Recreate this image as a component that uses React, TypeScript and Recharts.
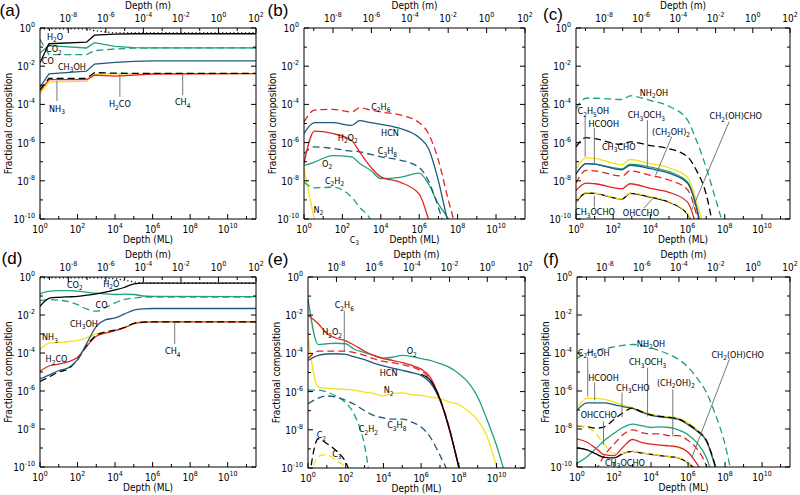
import React from "react"
import { LineChart, Line, XAxis, YAxis, ReferenceDot, ReferenceLine } from "recharts"

const FONT = "'Liberation Sans Narrow', 'DejaVu Sans Condensed', 'Liberation Sans', sans-serif"
const BLACK = "#000000"
const GREEN = "#1fa27a"
const BLUE = "#1c5b7e"
const RED = "#e4231d"
const YELLOW = "#f5e21b"
const DASH = "7 4"
const DOT = "1.2 2.6"

// 1 monolayer is roughly 3.1e-10 m, used for the top axis
const M_PER_ML = 3.1e-10
const X_MAX = 1e2 / M_PER_ML

const mlTickExps = [0, 1, 2, 3, 4, 5, 6, 7, 8, 9, 10, 11]
const mTickExps = [-9, -8, -7, -6, -5, -4, -3, -2, -1, 0, 1, 2]
const yTickExps = [-10, -9, -8, -7, -6, -5, -4, -3, -2, -1, 0]
const mlTicks = mlTickExps.map((e) => Math.pow(10, e))
const mTicks = mTickExps.map((e) => Math.pow(10, e) / M_PER_ML)
const yTicks = yTickExps.map((e) => Math.pow(10, e))

// ---- panel (a)
const aDepth = [1, 3, 300, 800, 1e4, 1e5, 1e6, 3.3e11]
const aTotal = [0.9, 0.9, 0.9, 0.72, 0.55, 0.55, 0.55, 0.55]
const aH2O = [0.015, 0.15, 0.18, 0.42, 0.48, 0.5, 0.5, 0.5]
const aCO2 = [0.05, 0.12, 0.09, 0.17, 0.11, 0.095, 0.09, 0.09]
const aCO = [0.25, 0.04, 0.04, 0.065, 0.08, 0.088, 0.09, 0.09]
const aCH3OH = [8e-4, 4e-3, 5.5e-3, 0.013, 0.016, 0.018, 0.019, 0.019]
const aNH3 = [3.5e-4, 1.5e-3, 1.6e-3, 3.8e-3, 4e-3, 4e-3, 4.1e-3, 4.1e-3]
const aH2CO = [5e-4, 2e-3, 2e-3, 3.4e-3, 3e-3, 3.4e-3, 3.9e-3, 4.1e-3]
const aCH4 = [6e-4, 2.3e-3, 2.3e-3, 4.6e-3, 4.3e-3, 4.2e-3, 4.2e-3, 4.2e-3]

// ---- panel (b)
const bDepth = [1, 3.5, 30, 300, 800, 3e3, 1e4, 1e5, 1e6, 3e6, 1e7, 3e7, 1e8]
const bC2H6 = [1.2e-5, 5e-5, 5.5e-5, 4e-5, 6.6e-5, 5e-5, 4e-5, 2.8e-5, 1.1e-5, 3e-6, 1.2e-7, 1.4e-9, 1.6e-11]
const bHCN = [3e-6, 1.1e-5, 1.1e-5, 8e-6, 1.4e-5, 1.1e-5, 9e-6, 5.5e-6, 1.8e-6, 5e-7, 1e-8, 8e-11, 1e-12]
const bH2O2 = [8e-8, 4e-6, 3e-6, 1.3e-6, 3.2e-7, 5.2e-8, 1.6e-8, 8.5e-9, 2e-9, 1e-10, 1e-12, null, null]
const bC3H8 = [2.6e-7, 6e-7, 5e-7, 3.6e-7, 3.3e-7, 2.4e-7, 1.8e-7, 1.2e-7, 5e-8, 1e-8, 4e-10, 1e-11, null]
const bO2 = [6.4e-8, 9.5e-8, 2.1e-7, 1.8e-7, 8e-8, 3.5e-8, 1.3e-8, 1.5e-8, 2.5e-8, 7e-9, 6e-10, 1.2e-10, 1e-11]
const bC2H2 = [8.5e-9, 4.3e-9, 4.6e-9, 1.4e-9, 4e-10, 8e-11, 1e-12, null, null, null, null, null, null]
const bN2 = [4.3e-8, 8e-11, null, null, null, null, null, null, null, null, null, null, null]

// ---- panel (c)
const cDepth = [1, 3.5, 10, 300, 800, 1e4, 1e5, 1e6, 3e6, 1e7, 3e7, 1e8]
const cNH2OH = [6e-5, 2.1e-4, 2.1e-4, 1.8e-4, 2.8e-4, 1.6e-4, 8e-5, 1.5e-5, 1.3e-6, 5e-8, 1.4e-9, 2.5e-11]
const cCH3CHO = [6e-7, 1.8e-6, 1.6e-6, 8e-7, 1.1e-6, 7e-7, 4.8e-7, 1.8e-7, 3.5e-8, 2e-9, 1e-11, null]
const cC2H5OH = [4.3e-8, 1.6e-7, 1.5e-7, 7e-8, 1.3e-7, 8e-8, 4.8e-8, 1.5e-8, 9e-10, 1e-11, null, null]
const cHCOOH = [2.3e-8, 8e-8, 7.5e-8, 3.8e-8, 6.5e-8, 4.3e-8, 2.5e-8, 7.5e-9, 4e-10, 1e-12, null, null]
const cCH3OCH3 = [2.3e-8, 8e-8, 7.5e-8, 4.2e-8, 7.5e-8, 5.2e-8, 3e-8, 8.5e-9, 4.5e-10, 1e-12, null, null]
const cCH2OH2 = [7.5e-9, 3.5e-8, 3.3e-8, 1.8e-8, 3.3e-8, 1.9e-8, 1.1e-8, 3.4e-9, 1.8e-10, 1e-12, null, null]
const cCH2OHCHO = [3.1e-9, 7.5e-9, 7e-9, 3.8e-9, 7e-9, 4e-9, 2.5e-9, 7.6e-10, 4e-11, null, null, null]
const cOHCCHO = [7.6e-10, 2.3e-9, 2.2e-9, 1.1e-9, 2.2e-9, 1.4e-9, 7.6e-10, 1.8e-10, 1e-11, null, null, null]
const cCH3OCHO = [8e-10, 2.4e-9, 2.3e-9, 1.15e-9, 2.3e-9, 1.5e-9, 8e-10, 1.9e-10, 1e-11, null, null, null]

// ---- panel (d)
const dDepth = [1, 3.5, 10, 30, 100, 300, 1e3, 3e3, 1e4, 3e4, 1e5, 3e5, 1e6, 3.3e11]
const dTotal = [0.9, 0.9, 0.9, 0.9, 0.9, 0.9, 0.9, 0.88, 0.8, 0.68, 0.55, 0.49, 0.48, 0.48]
const dH2O = [0.029, 0.079, 0.085, 0.09, 0.095, 0.11, 0.13, 0.16, 0.21, 0.28, 0.43, 0.48, 0.48, 0.48]
const dCO2 = [0.13, 0.18, 0.19, 0.19, 0.18, 0.16, 0.14, 0.13, 0.12, 0.125, 0.12, 0.1, 0.096, 0.093]
const dCO = [0.057, 0.064, 0.06, 0.052, 0.035, 0.021, 0.016, 0.024, 0.043, 0.064, 0.079, 0.085, 0.088, 0.088]
const dCH3OH = [4.3e-6, 7.2e-6, 1.2e-5, 1.6e-5, 4.5e-5, 3e-4, 2.5e-3, 5.6e-3, 7e-3, 0.011, 0.018, 0.021, 0.022, 0.022]
const dNH3 = [1.5e-4, 3.4e-4, 3.6e-4, 3.9e-4, 4.6e-4, 6.2e-4, 1e-3, 1.2e-3, 1.5e-3, 2.1e-3, 3.6e-3, 4.3e-3, 4.3e-3, 4.3e-3]
const dH2CO = [1.1e-5, 2.2e-5, 2.6e-5, 3.4e-5, 5.9e-5, 2.2e-4, 7.6e-4, 1.1e-3, 1.5e-3, 2.1e-3, 3.5e-3, 4.1e-3, 4.3e-3, 4.3e-3]
const dCH4 = [3.2e-6, 5.9e-6, 1e-5, 1.4e-5, 4.5e-5, 2.4e-4, 8.6e-4, 1.3e-3, 1.6e-3, 2.2e-3, 3.6e-3, 4.2e-3, 4.3e-3, 4.3e-3]

// ---- panel (e)
const eDepth = [1, 3.5, 10, 30, 100, 300, 1e3, 3e3, 1e4, 3e4, 1e5, 3e5, 1e6, 3e6, 1e7, 3e7, 1e8, 3e8, 1e9, 3e9, 1e10, 3e10, 1e11]
const eO2 = [0.074, 2.9e-4, 3.2e-4, 3.4e-4, 3.2e-4, 1.6e-4, 1.1e-4, 7.9e-5, 5.7e-5, 6.3e-5, 7.9e-5, 7e-5, 5.3e-5, 4.3e-5, 2.9e-5, 1.9e-5, 8.7e-6, 3.2e-6, 5.2e-7, 3.8e-8, 1.5e-9, 4e-11, 1e-12]
const eH2O2 = [0.01, 3.6e-3, 1.1e-3, 6.4e-4, 4.5e-4, 2.6e-4, 1.3e-4, 7.9e-5, 5.3e-5, 4.3e-5, 3.3e-5, 2.4e-5, 1.5e-5, 5.8e-6, 4e-7, 1.2e-8, 1.2e-10, 1e-12, null, null, null, null, null]
const eC2H6 = [5.3e-5, 1.3e-4, 1.3e-4, 1.3e-4, 1.3e-4, 1.1e-4, 7.9e-5, 5.3e-5, 3.8e-5, 3.3e-5, 2.6e-5, 2e-5, 1.2e-5, 4.8e-6, 4.5e-7, 1.5e-8, 1.1e-10, 1e-12, null, null, null, null, null]
const eHCN = [4.3e-5, 7.9e-5, 9.3e-5, 9.6e-5, 8.8e-5, 6.5e-5, 4.7e-5, 3.1e-5, 2.2e-5, 1.7e-5, 1.3e-5, 1e-5, 7e-6, 3e-6, 3.5e-7, 1.3e-8, 1e-10, 1e-12, null, null, null, null, null]
const eTail = [null, null, null, null, null, null, null, null, null, null, null, null, 8e-6, 4e-6, 4e-7, 1.3e-8, 1.1e-10, 1e-12, null, null, null, null, null]
const eN2 = [7.2e-4, 1.7e-6, 1.5e-6, 1.4e-6, 1.3e-6, 1.2e-6, 9.5e-7, 8e-7, 6e-7, 8e-7, 8.5e-7, 7e-7, 6.3e-7, 5.2e-7, 4.3e-7, 2.9e-7, 2.1e-7, 1e-7, 3.2e-8, 5.1e-9, 1.1e-10, 1e-12, null]
const eC2H2 = [1.2e-6, 1.2e-6, 9.5e-7, 5.9e-7, 2.6e-7, 5.7e-8, 1.5e-9, 1e-12, null, null, null, null, null, null, null, null, null, null, null, null, null, null, null]
const eC3H8 = [2.3e-7, 4.6e-7, 5.9e-7, 5.2e-7, 3.5e-7, 2.1e-7, 1e-7, 5.7e-8, 4.2e-8, 3.6e-8, 3.6e-8, 2.6e-8, 1.4e-8, 4.2e-9, 4.6e-10, 5e-11, null, null, null, null, null, null, null]
const eC2 = [1e-11, 3.4e-9, 1.9e-9, 8.3e-10, 2e-10, 1e-11, null, null, null, null, null, null, null, null, null, null, null, null, null, null, null, null, null]
const eC3 = [1e-11, 4e-10, 5e-10, 2.5e-10, 1e-10, 1e-11, null, null, null, null, null, null, null, null, null, null, null, null, null, null, null, null, null]

// ---- panel (f)
const fDepth = [1, 3.5, 10, 30, 100, 300, 1e3, 3e3, 1e4, 3e4, 1e5, 3e5, 1e6, 3e6, 1e7, 3e7, 1e8, 3e8]
const fNH2OH = [5.1e-5, 1e-4, 1.3e-4, 1.7e-4, 2.1e-4, 2.5e-4, 2.8e-4, 2.5e-4, 1.9e-4, 1.3e-4, 8.3e-5, 4.6e-5, 1.8e-5, 4.9e-6, 8.1e-7, 5.9e-8, 1.5e-9, 1e-11]
const fC2H5OH = [1.3e-7, 4.1e-7, 4.1e-7, 3.6e-7, 2.7e-7, 1.8e-7, 1.3e-7, 8.7e-8, 5.9e-8, 5e-8, 4.3e-8, 3.7e-8, 2.1e-8, 9.5e-9, 2.5e-9, 8e-11, 1e-12, null]
const fHCOOH = [9.5e-8, 2.4e-7, 2.4e-7, 2.4e-7, 1.9e-7, 1.5e-7, 1.2e-7, 7.8e-8, 5.2e-8, 4.3e-8, 3.9e-8, 3.2e-8, 1.7e-8, 7.8e-9, 2.3e-9, 1e-10, 1e-12, null]
const fCH3CHO = [1.4e-8, 1.3e-8, 1.1e-8, 1.3e-8, 3.2e-8, 7.1e-8, 1.25e-7, 8.2e-8, 5.5e-8, 4.6e-8, 4.1e-8, 3.4e-8, 1.8e-8, 8.5e-9, 2.4e-9, 1.1e-10, 1e-12, null]
const fCH3OCH3 = [1.6e-10, 3.5e-10, 9e-10, 2.5e-9, 6e-9, 1.2e-8, 1.8e-8, 1.5e-8, 1.2e-8, 1.3e-8, 1.2e-8, 9e-9, 5e-9, 1.9e-9, 3e-10, 1e-11, null, null]
const fCH2OH2 = [null, null, 6e-11, 4e-10, 1.6e-9, 5e-9, 9e-9, 6.5e-9, 5.5e-9, 5.5e-9, 4.5e-9, 4.5e-9, 2.5e-9, 9e-10, 1e-10, 1e-12, null, null]
const fCH2OHCHO = [3e-9, 2e-9, 1e-9, 4.5e-10, 4e-10, 1.1e-9, 2.8e-9, 2e-9, 1.6e-9, 1.4e-9, 1.3e-9, 1.1e-9, 6e-10, 1.5e-10, 2e-11, null, null, null]
const fOHCCHO = [1e-9, 8e-10, 5e-10, 3.2e-10, 3e-10, 5e-10, 6.6e-10, 5.5e-10, 4.6e-10, 4e-10, 3.5e-10, 3e-10, 1.6e-10, 5e-11, 1e-12, null, null, null]
const fCH3OCHO = [1.5e-8, 1.2e-8, 6e-9, 1.5e-9, 5e-10, 5.2e-10, 6.8e-10, 5.6e-10, 4.7e-10, 4.1e-10, 3.6e-10, 3.1e-10, 1.6e-10, 5e-11, 1e-12, null, null, null]

type Series = { values: (number | null)[]; color: string; dash?: string }
type Note = { text: string; x: number; y: number }
type Leader = [number, number, number, number]
type PanelCfg = {
  letter: string
  letterPos: [number, number]
  left: number
  top: number
  width: number
  height: number
  depth: number[]
  curve: "linear" | "monotoneX"
  series: Series[]
  notes: Note[]
  leaders: Leader[]
}

const panels: PanelCfg[] = [
  {
    letter: "(a)", letterPos: [10, 10], left: 40, top: 28, width: 216, height: 191, depth: aDepth, curve: "linear",
    series: [
      { values: aNH3, color: YELLOW },
      { values: aH2CO, color: RED },
      { values: aCH4, color: BLACK, dash: DASH },
      { values: aCH3OH, color: BLUE },
      { values: aCO, color: GREEN, dash: DASH },
      { values: aCO2, color: GREEN },
      { values: aH2O, color: BLACK },
      { values: aTotal, color: BLACK, dash: DOT },
    ],
    notes: [
      { text: "H2O", x: 6.3, y: 0.34 },
      { text: "CO2", x: 5.5, y: 0.075 },
      { text: "CO", x: 2.6, y: 0.019 },
      { text: "CH3OH", x: 50, y: 0.0095 },
      { text: "NH3", x: 8, y: 5.8e-5 },
      { text: "H2CO", x: 1.8e4, y: 1e-4 },
      { text: "CH4", x: 4e7, y: 1.3e-4 },
    ],
    leaders: [
      [8, 1.7e-3, 8, 1.5e-4],
      [1.8e4, 3.8e-3, 1.8e4, 2.5e-4],
      [4e7, 4.2e-3, 4e7, 3e-4],
    ],
  },
  {
    letter: "(b)", letterPos: [278, 10], left: 304, top: 28, width: 221, height: 191, depth: bDepth, curve: "monotoneX",
    series: [
      { values: bN2, color: YELLOW },
      { values: bC2H2, color: GREEN, dash: DASH },
      { values: bO2, color: GREEN },
      { values: bC3H8, color: BLUE, dash: DASH },
      { values: bH2O2, color: RED },
      { values: bHCN, color: BLUE },
      { values: bC2H6, color: RED, dash: DASH },
    ],
    notes: [
      { text: "C2H6", x: 1e4, y: 7.5e-5 },
      { text: "HCN", x: 3e4, y: 3e-6 },
      { text: "H2O2", x: 190, y: 1.8e-6 },
      { text: "C3H8", x: 2.2e4, y: 3.6e-7 },
      { text: "O2", x: 16, y: 8e-8 },
      { text: "C2H2", x: 39, y: 1e-8 },
      { text: "N2", x: 5.7, y: 3e-10 },
      { text: "C3", x: 420, y: 8e-12 },
    ],
    leaders: [],
  },
  {
    letter: "(c)", letterPos: [553, 14], left: 576, top: 28, width: 214, height: 191, depth: cDepth, curve: "monotoneX",
    series: [
      { values: cNH2OH, color: GREEN, dash: DASH },
      { values: cCH3CHO, color: BLACK, dash: DASH },
      { values: cC2H5OH, color: YELLOW },
      { values: cCH3OCH3, color: GREEN },
      { values: cHCOOH, color: BLUE },
      { values: cCH2OH2, color: RED, dash: DASH },
      { values: cCH2OHCHO, color: RED },
      { values: cOHCCHO, color: BLACK },
      { values: cCH3OCHO, color: YELLOW, dash: DASH },
    ],
    notes: [
      { text: "NH2OH", x: 1.55e4, y: 4.1e-4 },
      { text: "C2H5OH", x: 8.6, y: 4.5e-5 },
      { text: "HCOOH", x: 31, y: 1e-5 },
      { text: "CH3OCH3", x: 6100, y: 2.7e-5 },
      { text: "(CH2OH)2", x: 1.3e5, y: 3.6e-6 },
      { text: "CH3CHO", x: 200, y: 5.9e-7 },
      { text: "CH3OCHO", x: 10.5, y: 2.2e-10 },
      { text: "OHCCHO", x: 3100, y: 2.1e-10 },
      { text: "CH2(OH)CHO", x: 3.9e8, y: 2.4e-5 },
    ],
    leaders: [
      [3.1, 2.4e-5, 3.1, 1.8e-7],
      [9.7, 6e-6, 9.7, 8e-8],
      [6900, 1.5e-5, 6900, 5.2e-8],
      [1.4e5, 2e-6, 1.9e4, 1.9e-8],
      [9.7, 1.7e-9, 9.7, 4e-10],
      [4.6e3, 3.8e-10, 1.26e4, 1.1e-9],
      [1.7e8, 1.2e-5, 1.6e6, 2.7e-10],
    ],
  },
  {
    letter: "(d)", letterPos: [12, 258], left: 40, top: 277, width: 216, height: 190, depth: dDepth, curve: "monotoneX",
    series: [
      { values: dNH3, color: YELLOW },
      { values: dH2CO, color: RED },
      { values: dCH4, color: BLACK, dash: DASH },
      { values: dCH3OH, color: BLUE },
      { values: dCO, color: GREEN, dash: DASH },
      { values: dCO2, color: GREEN },
      { values: dH2O, color: BLACK },
      { values: dTotal, color: BLACK, dash: DOT },
    ],
    notes: [
      { text: "CO2", x: 72, y: 0.4 },
      { text: "H2O", x: 6.3e3, y: 0.43 },
      { text: "CO", x: 1.9e3, y: 0.035 },
      { text: "CH3OH", x: 218, y: 3.4e-3 },
      { text: "NH3", x: 3.4, y: 6.6e-4 },
      { text: "H2CO", x: 7.6, y: 4.8e-5 },
      { text: "CH4", x: 1.2e7, y: 1.2e-4 },
    ],
    leaders: [[1.5e7, 4.3e-3, 1.5e7, 3e-4]],
  },
  {
    letter: "(e)", letterPos: [278, 259], left: 308, top: 277, width: 217, height: 191, depth: eDepth, curve: "monotoneX",
    series: [
      { values: eC3, color: YELLOW, dash: DASH },
      { values: eC2, color: BLACK, dash: DASH },
      { values: eC2H2, color: GREEN, dash: DASH },
      { values: eC3H8, color: BLUE, dash: DASH },
      { values: eN2, color: YELLOW },
      { values: eO2, color: GREEN },
      { values: eHCN, color: BLUE },
      { values: eC2H6, color: RED, dash: DASH },
      { values: eH2O2, color: RED },
      { values: eTail, color: BLACK },
    ],
    notes: [
      { text: "C2H6", x: 84, y: 0.033 },
      { text: "H2O2", x: 19, y: 1.3e-3 },
      { text: "O2", x: 3.2e5, y: 1.3e-4 },
      { text: "HCN", x: 1.9e4, y: 9.4e-6 },
      { text: "N2", x: 1.9e4, y: 1.2e-6 },
      { text: "C3H8", x: 5.1e4, y: 1.7e-8 },
      { text: "C2H2", x: 1.6e3, y: 1.1e-8 },
      { text: "C2", x: 5.1, y: 5.1e-9 },
      { text: "C3", x: 34, y: 5.6e-10 },
    ],
    leaders: [[84, 0.017, 84, 1.3e-4]],
  },
  {
    letter: "(f)", letterPos: [551, 259], left: 577, top: 277, width: 213, height: 190, depth: fDepth, curve: "monotoneX",
    series: [
      { values: fNH2OH, color: GREEN, dash: DASH },
      { values: fC2H5OH, color: YELLOW },
      { values: fHCOOH, color: BLUE },
      { values: fCH3CHO, color: BLACK, dash: DASH },
      { values: fCH3OCH3, color: GREEN },
      { values: fCH2OH2, color: RED, dash: DASH },
      { values: fCH2OHCHO, color: RED },
      { values: fOHCCHO, color: BLACK },
      { values: fCH3OCHO, color: YELLOW, dash: DASH },
    ],
    notes: [
      { text: "NH2OH", x: 1e4, y: 3e-4 },
      { text: "C2H5OH", x: 8, y: 1.05e-4 },
      { text: "HCOOH", x: 27, y: 4.6e-6 },
      { text: "CH3CHO", x: 1050, y: 1.5e-6 },
      { text: "CH3OCH3", x: 6500, y: 3.2e-5 },
      { text: "(CH2OH)2", x: 2.2e5, y: 2.8e-6 },
      { text: "OHCCHO", x: 15, y: 5.2e-8 },
      { text: "CH3OCHO", x: 390, y: 1.7e-10 },
      { text: "CH2(OH)CHO", x: 4.8e8, y: 8.3e-5 },
    ],
    leaders: [
      [3.8, 5.8e-5, 3.8, 5.1e-7],
      [9, 2.8e-6, 9, 3.2e-7],
      [270, 8.3e-7, 270, 4.1e-8],
      [6500, 1.7e-5, 6500, 4.6e-8],
      [1.5e5, 1.2e-6, 1.5e5, 4.1e-9],
      [27, 2.5e-8, 27, 1.5e-9],
      [1.7e8, 4.6e-5, 1.6e6, 3.1e-10],
    ],
  },
]

const TICK_FS = 10
const SUP_FS = 7
const RIGHT_PAD = 14

function Pow10({ x, y, exp, anchor }: { x: number; y: number; exp: number; anchor: string }) {
  return (
    <text x={x} y={y} textAnchor={anchor} fontSize={TICK_FS} fontFamily={FONT} fill="#000">
      10<tspan dy={-5} fontSize={SUP_FS}>{String(exp)}</tspan>
    </text>
  )
}

function BottomTick(props: any) {
  const { x, y, payload } = props
  const e = Math.round(Math.log10(payload.value))
  const major = e % 2 === 0
  return (
    <g>
      <line x1={x} x2={x} y1={y} y2={y - (major ? 5 : 3)} stroke="#000" />
      {major && <Pow10 x={x} y={y + 14} exp={e} anchor="middle" />}
    </g>
  )
}

function TopTick(props: any) {
  const { x, y, payload } = props
  const e = Math.round(Math.log10(payload.value * M_PER_ML))
  const major = e % 2 === 0
  return (
    <g>
      <line x1={x} x2={x} y1={y} y2={y + (major ? 5 : 3)} stroke="#000" />
      {major && <Pow10 x={x} y={y - 6} exp={e} anchor="middle" />}
    </g>
  )
}

function LeftTick(props: any) {
  const { x, y, payload } = props
  const e = Math.round(Math.log10(payload.value))
  const major = e % 2 === 0
  return (
    <g>
      <line x1={x} x2={x + (major ? 5 : 3)} y1={y} y2={y} stroke="#000" />
      {major && <Pow10 x={x - 5} y={y + 4} exp={e} anchor="end" />}
    </g>
  )
}

function RightTick(props: any) {
  const { x, y, payload } = props
  const e = Math.round(Math.log10(payload.value))
  const major = e % 2 === 0
  return <line x1={x} x2={x - (major ? 5 : 3)} y1={y} y2={y} stroke="#000" />
}

// chemical formula: every digit is a subscript
function ChemText({ x, y, text }: { x: number; y: number; text: string }) {
  const parts = text.split(/(\d+)/).filter((p) => p.length > 0)
  let shift = 0
  return (
    <text x={x} y={y + 3} textAnchor="middle" fontSize={9} fontFamily={FONT} fill="#000">
      {parts.map((p, i) => {
        const isSub = /^\d+$/.test(p)
        const dy = isSub ? 2.5 - shift : -shift
        shift = isSub ? 2.5 : 0
        return (
          <tspan key={i} dy={dy} fontSize={isSub ? 6.5 : 9}>
            {p}
          </tspan>
        )
      })}
    </text>
  )
}

function Panel({ cfg }: { cfg: PanelCfg }) {
  const data = cfg.depth.map((d, i) => {
    const row: Record<string, number | null> = { depth: d }
    cfg.series.forEach((s, j) => {
      row["s" + j] = s.values[i]
    })
    return row
  })
  return (
    <div style={{ position: "absolute", left: cfg.left - 45, top: cfg.top - 28 }}>
      <LineChart width={cfg.width + 47 + RIGHT_PAD} height={cfg.height + 56} data={data}
        margin={{ top: 0, right: RIGHT_PAD, bottom: 0, left: 0 }}>
        <XAxis xAxisId="b" dataKey="depth" type="number" scale="log" domain={[1, X_MAX]} ticks={mlTicks} allowDataOverflow
          height={28} tickLine={false} tickSize={0} tickMargin={0} interval={0} tick={<BottomTick />} stroke="#000" />
        <XAxis xAxisId="t" orientation="top" dataKey="depth" type="number" scale="log" domain={[1, X_MAX]} ticks={mTicks} allowDataOverflow
          height={28} tickLine={false} tickSize={0} tickMargin={0} interval={0} tick={<TopTick />} stroke="#000" />
        <YAxis yAxisId="l" type="number" scale="log" domain={[1e-10, 1]} ticks={yTicks} allowDataOverflow
          width={45} tickLine={false} tickSize={0} tickMargin={0} interval={0} tick={<LeftTick />} stroke="#000" />
        <YAxis yAxisId="r" orientation="right" type="number" scale="log" domain={[1e-10, 1]} ticks={yTicks} allowDataOverflow
          width={2} tickLine={false} tickSize={0} tickMargin={0} interval={0} tick={<RightTick />} stroke="#000" />
        {cfg.series.map((s, j) => (
          <Line key={j} xAxisId="b" yAxisId="l" dataKey={"s" + j} type={cfg.curve} stroke={s.color}
            strokeWidth={s.dash === DOT ? 1.2 : 1.3} strokeDasharray={s.dash} dot={false} activeDot={false}
            isAnimationActive={false} connectNulls={false} />
        ))}
        {cfg.leaders.map((l, k) => (
          <ReferenceLine key={"l" + k} xAxisId="b" yAxisId="l" ifOverflow="visible" stroke="#666" strokeWidth={0.9}
            segment={[{ x: l[0], y: l[1] }, { x: l[2], y: l[3] }]} />
        ))}
        {cfg.notes.map((n, k) => (
          <ReferenceDot key={"n" + k} xAxisId="b" yAxisId="l" x={n.x} y={n.y} r={0} ifOverflow="visible"
            shape={(p: any) => <ChemText x={p.cx} y={p.cy} text={n.text} />} />
        ))}
      </LineChart>
    </div>
  )
}

export default function App() {
  return (
    <div style={{ position: "absolute", left: 0, top: 0, width: 800, height: 495, background: "#fff", fontFamily: FONT, overflow: "hidden" }}>
      {panels.map((p) => (
        <Panel key={p.letter} cfg={p} />
      ))}
      <svg width={800} height={495} style={{ position: "absolute", left: 0, top: 0, pointerEvents: "none" }}>
        {panels.map((p) => (
          <g key={p.letter} fontFamily={FONT} fill="#000">
            <text x={p.letterPos[0]} y={p.letterPos[1] + 6} textAnchor="middle" fontSize={17} fontFamily="'Liberation Sans', sans-serif">
              {p.letter}
            </text>
            <text x={p.left + p.width / 2} y={p.top - 19} textAnchor="middle" fontSize={10}>Depth (m)</text>
            <text x={p.left + p.width / 2} y={p.top + p.height + 24} textAnchor="middle" fontSize={10}>Depth (ML)</text>
            <text x={p.left - 28} y={p.top + p.height / 2} textAnchor="middle" fontSize={10}
              transform={`rotate(-90 ${p.left - 28} ${p.top + p.height / 2})`}>Fractional composition</text>
          </g>
        ))}
      </svg>
    </div>
  )
}
